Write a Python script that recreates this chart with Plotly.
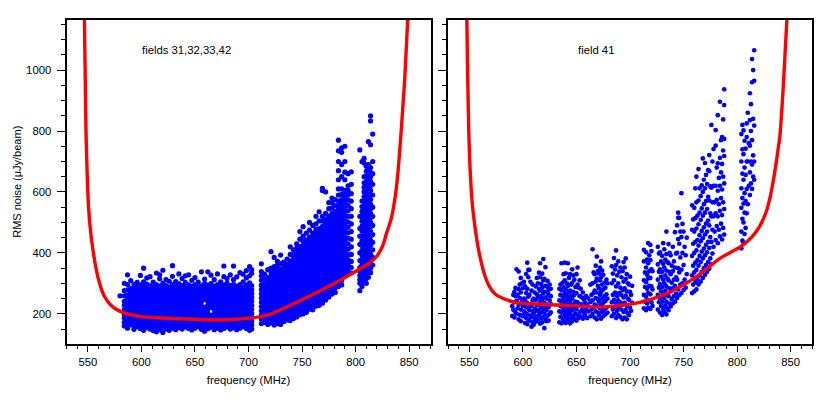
"""RMS noise vs frequency, two fields panels, with red sensitivity curves"""
import plotly.graph_objects as go

BLUE = "#0000ff"
RED = "#ff0000"
FONT = "Liberation Sans, Arial, sans-serif"

# left panel, fields 31,32,33,42: points read column by column
LEFT_FREQ = [580, 584, 587, 590, 593, 596, 599, 602, 605, 608, 611, 614, 617, 620, 623, 626, 629, 632, 635, 638,
             641, 644, 647, 650, 653, 656, 659, 662, 665, 668, 671, 674, 677, 680, 683, 686, 689, 692, 695, 698,
             701, 703,
             712, 715, 718, 721, 724, 727, 730, 733, 736, 739, 742, 745, 748, 751, 754, 757, 760, 763, 766, 769,
             772, 775, 778, 781, 784, 787, 790, 793, 796,
             804, 806, 808, 810, 812, 814, 816]
LEFT_NOISE = [
    [259],
    [160, 172, 186, 199, 214, 228, 241, 259, 276, 300],
    [153, 168, 180, 194, 207, 221, 234, 248, 262, 279, 296, 328],
    [164, 177, 190, 204, 217, 230, 244, 257, 271, 284, 309],
    [149, 161, 174, 187, 200, 213, 227, 240, 253, 267, 281, 297],
    [158, 170, 183, 196, 209, 222, 236, 249, 262, 275, 288, 303],
    [152, 165, 177, 190, 203, 216, 229, 243, 256, 269, 282, 295, 326],
    [146, 160, 172, 185, 198, 211, 224, 237, 250, 263, 276, 289, 305, 350],
    [155, 167, 180, 193, 206, 219, 232, 245, 258, 271, 284, 298, 318],
    [150, 163, 175, 188, 201, 214, 227, 240, 253, 266, 279, 292, 322],
    [145, 158, 171, 184, 197, 210, 223, 236, 249, 262, 275, 288, 304],
    [141, 153, 166, 179, 192, 205, 218, 231, 244, 257, 270, 283, 296, 334],
    [148, 161, 174, 187, 200, 213, 226, 239, 252, 265, 278, 291, 315, 328],
    [139, 156, 169, 182, 195, 208, 221, 234, 247, 260, 273, 286, 301, 343],
    [150, 163, 176, 189, 202, 215, 228, 241, 254, 267, 280, 293, 312],
    [146, 158, 171, 184, 197, 210, 223, 236, 249, 262, 275, 288, 307],
    [153, 166, 179, 192, 205, 218, 231, 244, 257, 270, 283, 296, 323, 358],
    [148, 161, 174, 187, 200, 213, 226, 239, 252, 265, 278, 291, 306],
    [155, 168, 181, 194, 207, 220, 233, 246, 259, 272, 285, 299, 331],
    [150, 163, 176, 189, 202, 215, 228, 241, 254, 267, 280, 293, 316],
    [157, 170, 183, 196, 209, 222, 235, 248, 261, 274, 287, 303, 325],
    [152, 165, 178, 191, 204, 217, 230, 243, 256, 269, 282, 295, 328],
    [147, 160, 173, 186, 199, 212, 225, 238, 251, 264, 277, 290, 310],
    [153, 166, 179, 192, 205, 218, 231, 244, 257, 270, 283, 296, 319],
    [158, 171, 184, 197, 210, 223, 236, 249, 262, 275, 288, 304],
    [149, 162, 175, 188, 201, 214, 227, 240, 253, 266, 279, 292, 338],
    [143, 156, 169, 182, 195, 208, 221, 247, 260, 273, 286, 300, 314],
    [151, 164, 177, 190, 203, 216, 229, 242, 255, 268, 281, 294, 338],
    [156, 169, 182, 195, 221, 234, 247, 260, 273, 286, 299, 327],
    [148, 161, 174, 187, 200, 213, 226, 239, 252, 265, 278, 291, 312],
    [153, 166, 179, 192, 205, 218, 231, 244, 257, 270, 283, 296, 331],
    [147, 160, 173, 186, 199, 212, 225, 238, 251, 264, 277, 290, 305],
    [152, 165, 178, 191, 204, 217, 230, 243, 256, 269, 282, 295, 322, 357],
    [157, 170, 183, 196, 209, 222, 235, 248, 261, 274, 287, 301, 316],
    [150, 163, 176, 189, 202, 215, 228, 241, 254, 267, 280, 293, 328],
    [154, 167, 180, 193, 206, 219, 232, 245, 258, 271, 284, 297, 312, 357],
    [148, 161, 174, 187, 200, 213, 226, 239, 252, 265, 278, 291, 321],
    [153, 166, 179, 192, 205, 218, 231, 244, 257, 270, 283, 296, 335],
    [158, 171, 184, 197, 210, 223, 236, 249, 262, 275, 288, 305, 330],
    [152, 165, 178, 191, 204, 217, 230, 243, 256, 269, 282, 295, 318, 342],
    [146, 159, 172, 185, 198, 211, 224, 237, 250, 263, 276, 289, 302, 325, 355],
    [150, 163, 176, 189, 202, 215, 228, 241, 254, 267, 280, 293, 333, 345],
    [168, 182, 196, 210, 224, 238, 252, 266, 280, 294, 310, 325, 339, 364],
    [172, 186, 200, 214, 228, 242, 256, 270, 284, 298, 314, 330],
    [165, 179, 193, 207, 221, 235, 249, 263, 277, 291, 305, 320, 345],
    [170, 184, 198, 212, 226, 240, 254, 268, 282, 296, 310, 324, 338, 350, 404],
    [163, 177, 191, 205, 219, 233, 247, 261, 275, 289, 303, 317, 331, 345, 355, 385],
    [168, 182, 196, 210, 224, 238, 252, 266, 280, 294, 308, 322, 336, 350, 360, 372],
    [165, 179, 193, 207, 221, 235, 249, 263, 277, 291, 305, 319, 333, 347, 365, 393],
    [175, 189, 203, 217, 231, 245, 259, 273, 287, 301, 315, 329, 343, 357, 370],
    [180, 194, 208, 222, 236, 250, 264, 278, 292, 306, 320, 334, 348, 362, 380],
    [178, 192, 206, 220, 234, 248, 262, 276, 290, 304, 318, 332, 346, 360, 374, 395, 420],
    [185, 199, 213, 227, 241, 255, 269, 283, 297, 311, 325, 339, 353, 367, 381, 395, 410],
    [190, 204, 218, 232, 246, 260, 274, 288, 302, 316, 330, 344, 358, 372, 386, 400, 415, 430],
    [197, 211, 225, 239, 253, 267, 281, 295, 309, 323, 337, 351, 365, 379, 393, 407, 421, 445, 470],
    [200, 214, 228, 242, 256, 270, 284, 298, 312, 326, 340, 354, 368, 382, 396, 410, 424, 438, 455, 486],
    [205, 219, 233, 247, 261, 275, 289, 303, 317, 331, 345, 359, 373, 387, 401, 415, 429, 443, 465],
    [215, 229, 243, 257, 271, 285, 299, 313, 327, 341, 355, 369, 383, 397, 411, 425, 439, 453, 475, 500],
    [213, 227, 241, 255, 269, 283, 297, 311, 325, 339, 353, 367, 381, 395, 409, 423, 437, 451, 465, 490],
    [225, 239, 253, 267, 281, 295, 309, 323, 337, 351, 365, 379, 393, 407, 421, 435, 449, 463, 477, 495, 520],
    [228, 242, 256, 270, 284, 298, 312, 326, 340, 354, 368, 382, 396, 410, 424, 438, 452, 466, 480, 505, 535],
    [235, 249, 263, 277, 291, 305, 319, 333, 347, 361, 375, 389, 403, 417, 431, 445, 459, 473, 487, 505, 520, 605, 612],
    [245, 259, 273, 287, 301, 315, 329, 343, 357, 371, 385, 399, 413, 427, 441, 455, 469, 483, 497, 511, 530, 600],
    [255, 269, 283, 297, 311, 325, 339, 353, 367, 381, 395, 409, 423, 437, 451, 465, 479, 493, 507, 521, 545, 565],
    [265, 279, 293, 307, 321, 335, 349, 363, 377, 391, 405, 419, 433, 447, 461, 475, 489, 503, 517, 531, 548, 565, 580],
    [270, 284, 298, 312, 326, 340, 354, 368, 382, 396, 410, 424, 438, 452, 466, 480, 494, 508, 522, 536, 555, 575],
    [290, 304, 318, 332, 346, 360, 374, 388, 402, 416, 430, 444, 458, 472, 486, 500, 514, 528, 542, 556, 570, 590, 610, 640, 670, 700, 735, 770],
    [295, 309, 323, 337, 351, 365, 379, 393, 407, 421, 435, 449, 463, 477, 491, 505, 519, 533, 547, 561, 575, 592, 610, 650, 690, 730, 745],
    [325, 339, 353, 367, 381, 395, 409, 423, 437, 451, 465, 479, 493, 507, 521, 535, 549, 563, 577, 591, 605, 640, 665, 700, 750],
    [330, 346, 362, 378, 394, 412, 430, 448, 466, 484, 502, 520, 538, 556, 574, 590, 605, 620, 660],
    [334, 352, 372, 395, 420, 445, 470, 495, 520, 545, 570, 595, 625, 666],
    [276, 300, 312, 326, 340, 352, 375, 400, 428, 455, 480, 520, 738],
    [290, 305, 320, 334, 348, 362, 378, 392, 408, 424, 440, 456, 472, 488, 504, 520, 536, 552, 570, 700],
    [315, 330, 345, 360, 375, 390, 405, 420, 435, 450, 465, 480, 495, 510, 525, 540, 555, 570, 585, 600, 615, 630, 650, 695, 710],
    [300, 316, 332, 348, 364, 380, 396, 412, 428, 444, 460, 476, 492, 508, 524, 540, 556, 572, 588, 604, 620, 636, 652, 668, 684],
    [320, 336, 352, 368, 384, 400, 416, 432, 448, 464, 480, 496, 512, 528, 544, 560, 576, 592, 608, 624, 640, 656, 672, 690, 765],
    [335, 350, 365, 380, 395, 410, 425, 440, 455, 470, 485, 500, 515, 530, 545, 560, 575, 590, 605, 620, 635, 650, 665, 680, 755, 833, 850],
    [360, 385, 410, 435, 460, 490, 520, 550, 590, 625, 660, 700, 790],
]

# right panel, field 41: sparser, one column per MHz so the clumps do not line up
RIGHT_FREQ = [590, 591, 592, 593, 594, 595, 596, 597, 598, 599, 600, 601, 602, 603, 604, 605, 606, 607, 608,
              609, 610, 611, 612, 613, 614, 615, 616, 617, 618, 619, 620, 621, 622, 623, 624, 625, 626,
              634, 635, 636, 637, 638, 639, 640, 641, 642, 643, 644, 645, 646, 647, 648, 649, 650, 651, 652, 653,
              654, 655, 656, 657, 658, 659, 660, 661,
              663, 664, 665, 666, 667, 668, 669, 670, 671, 672, 673, 674, 675, 676, 677, 678, 679,
              683, 684, 685, 686, 687, 688, 689, 690, 691, 692, 693, 694, 695, 696, 697, 698, 699, 700, 701, 702,
              713, 714, 715, 716, 717, 718, 719, 720, 721,
              726, 727, 728, 729, 730, 731, 732, 733, 734, 735, 736, 737, 738, 739, 740, 741, 742, 743, 744, 745,
              746, 747, 748, 749, 750, 751, 752, 753,
              758, 759, 760, 761, 762, 763, 764, 765, 766, 767, 768, 769, 770, 771, 772, 773, 774, 775, 776, 777,
              778, 779, 780, 781, 782, 783, 784, 785, 786, 787, 788,
              804, 805, 806, 807, 808, 809, 810, 811, 812, 813, 814, 815, 816]
RIGHT_NOISE = [
    [193, 225], [213, 262], [188, 238, 272], [205, 258, 285], [200, 243, 346], [218, 262],
    [182, 230, 281, 339], [197, 252, 296], [176, 214, 270, 318], [195, 240, 300], [192, 226, 284],
    [208, 250, 305], [170, 203, 245, 290], [186, 222, 268, 330], [166, 198, 236, 282, 368],
    [181, 218, 256, 320, 344], [178, 212, 262, 344], [194, 230, 305], [158, 190, 226, 276],
    [172, 208, 244, 296], [164, 200, 250], [184, 216, 270], [174, 210, 246, 290], [192, 228, 264, 318],
    [180, 212, 254, 300], [198, 232, 282, 335], [168, 204, 240, 276, 320, 366], [186, 222, 258, 298],
    [172, 210, 248, 286, 332], [190, 228, 268, 310, 380], [153, 200, 236, 272, 315], [182, 218, 254, 292, 353],
    [176, 212, 250, 290], [194, 230, 270, 308], [178, 222, 262, 280], [200, 244, 296], [205, 232, 258, 282],
    [172, 208, 244, 282], [190, 226, 262, 296], [169, 204, 240, 278, 366], [186, 222, 258, 302],
    [178, 214, 250, 288, 330], [196, 232, 268, 310, 368], [170, 206, 242, 280, 333], [188, 224, 260, 300],
    [180, 216, 252, 292, 366], [198, 234, 270, 318], [169, 204, 240, 276, 330], [186, 222, 258, 296],
    [176, 212, 250, 302, 346], [194, 230, 272, 326], [184, 220, 262, 312], [202, 240, 288],
    [178, 216, 268, 330], [196, 238, 296, 352], [186, 228, 286], [206, 258, 310], [192, 232, 282],
    [212, 254], [184, 224, 270], [204, 246], [196, 236], [216, 258], [186, 230], [208, 250],
    [192, 238, 296], [214, 262], [200, 244, 300, 412], [222, 268, 336], [188, 230, 276, 330], [208, 252, 306, 358],
    [182, 226, 270, 316, 388], [204, 248, 292, 340], [196, 240, 284, 332], [218, 262, 310, 352],
    [184, 228, 272, 320, 372], [206, 250, 296, 342], [192, 236, 280, 328], [214, 258, 302],
    [198, 242, 286], [220, 264, 312], [204, 250, 300],
    [192, 238, 300, 356], [214, 262, 332], [200, 246, 310, 383], [222, 270, 346],
    [186, 234, 290, 360, 408], [210, 258, 326], [196, 244, 300, 372], [220, 268, 338],
    [190, 238, 286, 352], [214, 262, 320], [182, 230, 278, 340], [206, 254, 306, 370],
    [188, 236, 284, 352], [212, 260, 314, 382], [182, 226, 274, 330], [202, 250, 300],
    [196, 246, 296], [220, 272, 322], [210, 262], [236, 292],
    [218, 262, 310, 372, 410], [240, 288, 336], [212, 256, 304, 352, 402], [234, 282, 328, 378],
    [220, 268, 316, 366, 432], [244, 292, 340, 392], [216, 264, 318, 376, 426], [238, 290, 346, 406], [226, 280, 340],
    [214, 262, 312, 362, 420], [238, 286, 338, 398], [204, 250, 298, 346, 402], [226, 274, 322, 372],
    [196, 240, 288, 338, 390], [216, 264, 312, 364, 432], [206, 252, 300, 352, 412], [228, 276, 326, 378],
    [198, 240, 290, 342, 396, 470], [218, 264, 316, 370], [212, 258, 310, 366, 429], [234, 284, 338, 400],
    [224, 274, 330, 392], [248, 302, 358], [234, 284, 340, 420], [258, 312, 372],
    [240, 292, 352, 468], [266, 320, 398], [252, 312, 400, 490], [280, 350, 445, 532, 515],
    [262, 336, 430, 515], [296, 385, 470], [268, 345, 452, 596], [300, 400, 495],
    [278, 360, 470], [312, 420], [286, 392], [330, 450],
    [268, 326, 390, 476, 556], [296, 358, 430, 510], [274, 336, 400, 470, 548], [304, 368, 436, 514, 612],
    [280, 344, 408, 480, 566, 650], [312, 376, 442, 522], [296, 358, 424, 494, 572, 675], [326, 390, 458, 532, 612],
    [306, 370, 438, 508, 586], [338, 404, 472, 546, 622], [318, 382, 448, 522, 600, 710], [350, 414, 484, 560, 640],
    [328, 392, 460, 532, 612, 695], [360, 426, 496, 570, 656], [338, 402, 470, 544, 626], [370, 436, 506, 584, 672],
    [348, 416, 490, 572, 668, 721], [382, 452, 530, 618], [362, 436, 520, 614, 820], [398, 476, 566, 700],
    [420, 520, 620, 741], [470, 566], [442, 530, 620, 752, 803], [488, 574, 680], [432, 520, 604, 694, 852],
    [476, 560, 646], [454, 538, 620, 712, 896], [496, 580, 664, 770], [444, 524, 608, 692, 780], [482, 566, 650, 736, 838],
    [460, 544, 628, 718, 774, 885, 937],
    [415, 470, 548, 612, 700, 790], [440, 512, 580, 660, 740, 820], [434, 500, 562, 640, 724, 802], [462, 532, 596, 680, 768],
    [482, 570, 656, 742], [530, 610, 700, 780, 825], [560, 700, 860], [620, 760],
    [590, 664, 752, 836, 924], [628, 700, 800, 888], [610, 690, 770, 1036, 960], [650, 720, 840, 1000],
    [640, 700, 818, 965, 1065],
]

LEFT_CURVE_FREQ = [546.7, 547.4, 548.2, 549.3, 550.6, 552.5, 554.7, 557, 560.5, 565, 570.5, 576, 583, 590, 601,
                   615, 633, 650, 670, 687, 701, 710.5, 720, 738, 750, 766, 782, 797, 813, 820, 825, 829, 833,
                   835.7, 838, 840, 842, 844, 846, 848.8]
LEFT_CURVE_NOISE = [1170, 1000, 800, 660, 550, 470, 410, 360, 305, 260, 232, 216, 204, 197, 190,
                    187, 184, 182, 180, 182, 186, 190, 198, 226, 246, 274, 303, 333, 367, 390, 420, 465, 508,
                    555, 610, 680, 770, 870, 975, 1170]
RIGHT_CURVE_FREQ = [547.6, 548.3, 549.4, 551, 553, 555.6, 558, 561, 564.5, 568.6, 574, 581, 593.7, 608, 624.6, 650,
                    671, 696, 708, 718, 740, 762, 784, 803, 811, 818, 823, 827.7, 831, 834, 836.5, 838.5, 840,
                    843.2, 846.6]
RIGHT_CURVE_NOISE = [1170, 1000, 800, 650, 550, 475, 420, 370, 325, 290, 265, 251, 237, 233, 230, 226,
                     222, 230, 237, 246, 276, 322, 382, 420, 442, 470, 500, 540, 585, 640, 695, 745, 783,
                     947, 1170]

X_RANGE = [530, 870]
Y_RANGE = [101, 1166]
W, H = 830, 399


def flatten(freqs, columns):
    xs, ys = [], []
    for f, col in zip(freqs, columns, strict=True):
        for v in col:
            xs.append(f)
            ys.append(v)
    return xs, ys


fig = go.Figure()

for axis, freqs, columns, cf, cn, dot in [
    ("", LEFT_FREQ, LEFT_NOISE, LEFT_CURVE_FREQ, LEFT_CURVE_NOISE, 5.2),
    ("2", RIGHT_FREQ, RIGHT_NOISE, RIGHT_CURVE_FREQ, RIGHT_CURVE_NOISE, 4.7),
]:
    xs, ys = flatten(freqs, columns)
    fig.add_trace(go.Scatter(x=xs, y=ys, mode="markers", xaxis="x" + axis, yaxis="y" + axis,
                             marker=dict(color=BLUE, size=dot, line=dict(width=0))))
    fig.add_trace(go.Scatter(x=cf, y=cn, mode="lines", xaxis="x" + axis, yaxis="y" + axis,
                             line=dict(color=RED, width=3.4, shape="spline", smoothing=0.7)))

x_common = dict(
    range=X_RANGE, tick0=0, dtick=50, ticks="outside", ticklen=6, tickwidth=1.3, tickcolor="black",
    minor=dict(dtick=10, ticks="outside", ticklen=3, tickwidth=1.2, tickcolor="black"),
    showgrid=False, zeroline=False, showline=True, linecolor="black", linewidth=2, mirror=True,
    tickfont=dict(size=11.3, color="black"),
    title=dict(text="frequency (MHz)", font=dict(size=11.3, color="black"), standoff=10),
)
y_common = dict(
    range=Y_RANGE, tick0=0, dtick=200, ticks="outside", ticklen=8, tickwidth=1.3, tickcolor="black",
    minor=dict(dtick=50, ticks="outside", ticklen=4, tickwidth=1.2, tickcolor="black"),
    showgrid=False, zeroline=False, showline=True, linecolor="black", linewidth=2, mirror=True,
    tickfont=dict(size=11.3, color="black"), ticklabelstandoff=3,
)

fig.update_layout(
    width=W, height=H, showlegend=False,
    margin=dict(l=0, r=0, t=0, b=0),
    paper_bgcolor="white", plot_bgcolor="white",
    font=dict(family=FONT, size=11.3, color="black"),
    xaxis=dict(domain=[66.5 / W, 430.5 / W], anchor="y", **x_common),
    xaxis2=dict(domain=[448 / W, 812 / W], anchor="y2", **x_common),
    yaxis=dict(domain=[1 - 344 / H, 1 - 19.5 / H], anchor="x",
               title=dict(text="RMS noise (μJy/beam)", font=dict(size=11, color="black"), standoff=2),
               **y_common),
    yaxis2=dict(domain=[1 - 344 / H, 1 - 19.5 / H], anchor="x2", showticklabels=False, **y_common),
    annotations=[
        dict(text="fields 31,32,33,42", xref="x", yref="y", x=598.5, y=1066, xanchor="left",
             showarrow=False, font=dict(size=11.3, color="black")),
        dict(text="field 41", xref="x2", yref="y2", x=649.5, y=1066, xanchor="left",
             showarrow=False, font=dict(size=11.3, color="black")),
    ],
)

fig.write_html("out.html", config={"displayModeBar": False}, post_script="document.body.style.margin='0';")
